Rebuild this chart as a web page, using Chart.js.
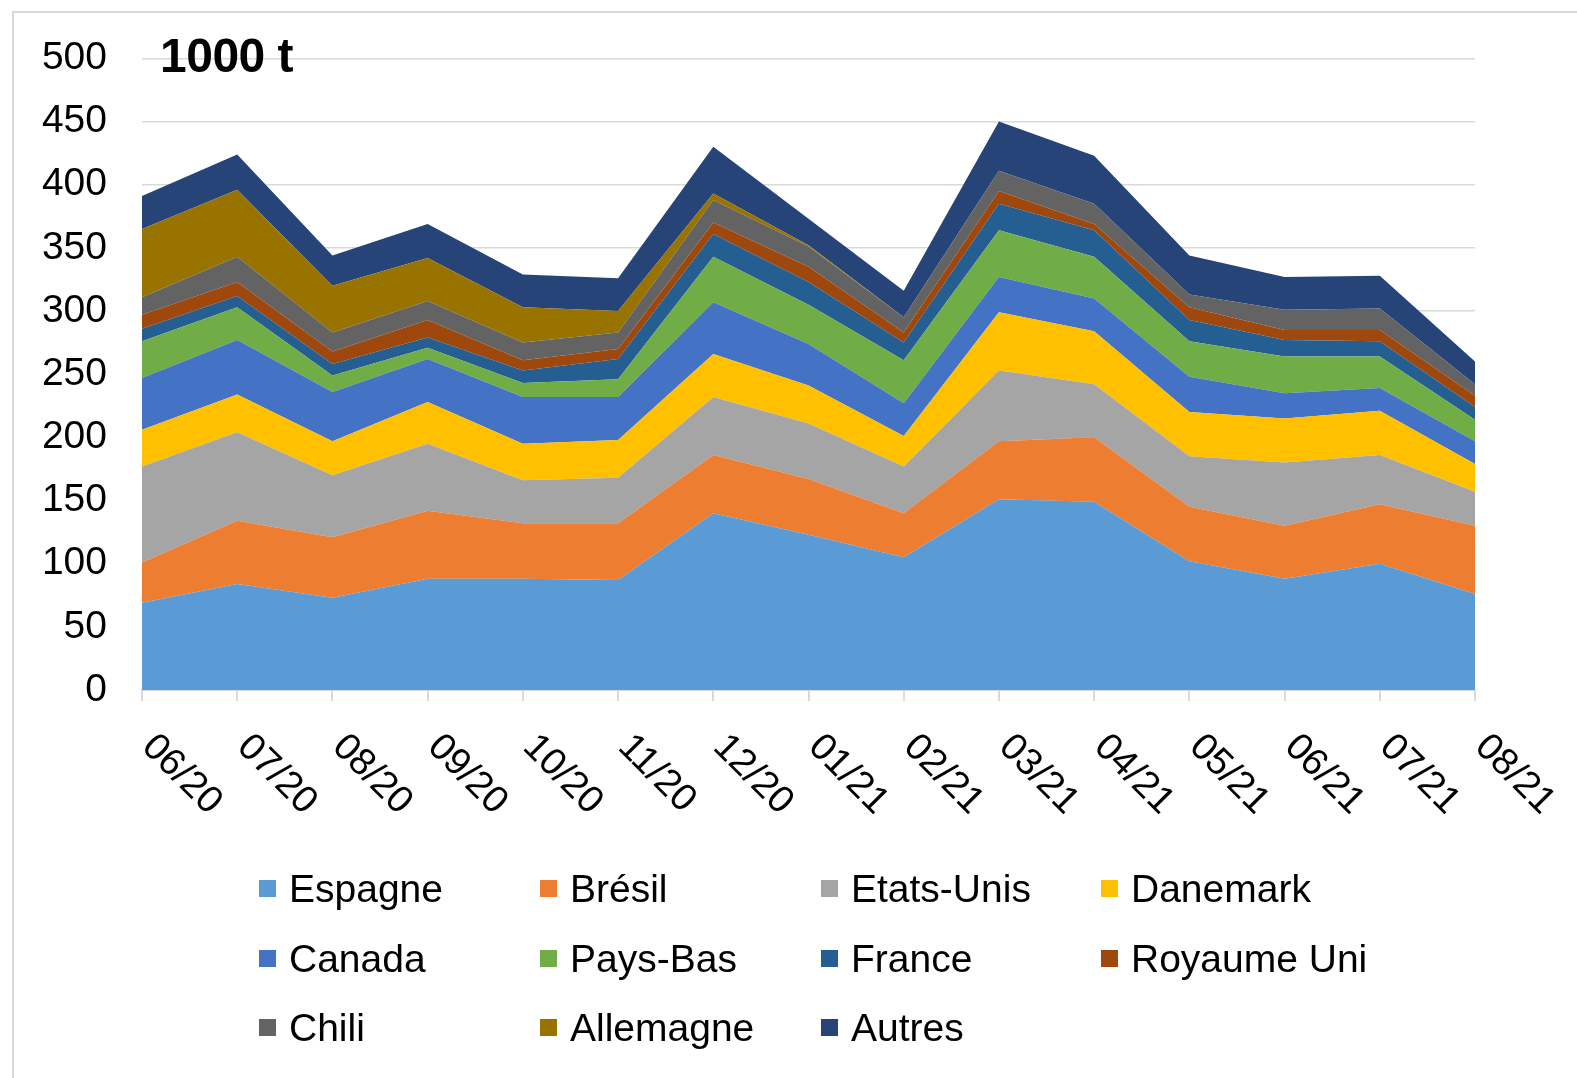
<!DOCTYPE html>
<html>
<head>
<meta charset="utf-8">
<script src="https://cdn.jsdelivr.net/npm/chart.js@4.4.1/dist/chart.umd.min.js"></script>
<style>
  html, body { margin: 0; padding: 0; background: #fff; overflow: hidden; }
  #wrap { position: relative; width: 1577px; height: 1078px; }
  #frame { position: absolute; left: 12px; top: 11px; width: 1600px; height: 1100px; border: 2px solid #d9d9d9; box-sizing: border-box; }
  canvas { position: absolute; left: 0; top: 0; }
  #unit { position: absolute; left: 160px; top: 28px; font: bold 48px "Liberation Sans", Arial, sans-serif; color: #000; letter-spacing: -0.5px; }
  .lg { position: absolute; font: 39px "Liberation Sans", Arial, sans-serif; color: #000; white-space: nowrap; line-height: 1; }
  .lg span.box { position: absolute; left: 0; top: 50%; width: 17px; height: 17px; margin-top: -8px; }
  .lg span.txt { position: absolute; left: 30px; top: -19px; }
</style>
</head>
<body>
<div id="wrap">
  <div id="frame"></div>
  <canvas id="c" width="1577" height="1078"></canvas>
  <div id="unit">1000 t</div>
  <div id="legend"></div>
</div>
<script>
const categories = ['06/20','07/20','08/20','09/20','10/20','11/20','12/20','01/21','02/21','03/21','04/21','05/21','06/21','07/21','08/21'];
const espagne    = [69, 84, 73, 88, 88, 87, 140, 123, 105, 151, 149, 102, 88, 100, 76];
const bresil     = [32, 50, 48, 54, 44, 45, 46, 44, 35, 46, 51, 43, 42, 47, 54];
const etatsUnis  = [76, 70, 49, 53, 34, 36, 46, 44, 37, 56, 42, 40, 50, 39, 27];
const danemark   = [29, 30, 27, 33, 29, 30, 34, 30, 24, 46, 42, 35, 35, 35, 22];
const canada     = [41, 43, 39, 34, 37, 34, 41, 33, 26, 28, 26, 28, 20, 18, 18];
const paysBas    = [29, 26, 13, 9, 11, 14, 36, 31, 34, 37, 33, 28, 29, 25, 17];
const france     = [10, 9, 9, 8, 10, 16, 18, 18, 14, 21, 21, 17, 13, 12, 10];
const royaumeUni = [11, 11, 10, 14, 8, 8, 9, 12, 8, 10, 5, 10, 8, 9, 9];
const chili      = [14, 20, 15, 15, 14, 13, 18, 16, 12, 16, 16, 10, 16, 17, 9];
const allemagne  = [54, 53, 37, 34, 28, 17, 5, 1, 0, 0, 0, 0, 0, 0, 0];
const autres     = [26, 28, 24, 27, 26, 26, 37, 21, 21, 39, 38, 31, 26, 26, 18];

const seriesNames = ['Espagne','Brésil','Etats-Unis','Danemark','Canada','Pays-Bas','France','Royaume Uni','Chili','Allemagne','Autres'];
const seriesData = [espagne, bresil, etatsUnis, danemark, canada, paysBas, france, royaumeUni, chili, allemagne, autres];
const seriesColors = ['#5B9BD5','#ED7D31','#A5A5A5','#FFC000','#4472C4','#70AD47','#255E91','#9E480E','#636363','#997300','#264478'];

const datasets = seriesNames.map((n, i) => ({
  label: n,
  data: seriesData[i],
  backgroundColor: seriesColors[i],
  borderColor: seriesColors[i],
  borderWidth: 0,
  pointRadius: 0,
  pointHoverRadius: 0,
  fill: i === 0 ? 'origin' : '-1',
  tension: 0
}));

const xLabelPlugin = {
  id: 'xLabels',
  afterDraw(chart) {
    const ctx = chart.ctx;
    const xs = chart.scales.x;
    ctx.save();
    ctx.font = '38px "Liberation Sans", Arial, sans-serif';
    ctx.fillStyle = '#000';
    ctx.textAlign = 'left';
    ctx.textBaseline = 'middle';
    categories.forEach((c, i) => {
      const x = xs.getPixelForValue(i);
      ctx.save();
      ctx.translate(x + 6, 741);
      ctx.rotate(Math.PI / 4);
      ctx.fillText(c, 0, 0);
      ctx.restore();
    });
    ctx.restore();
  }
};

new Chart(document.getElementById('c'), {
  type: 'line',
  data: { labels: categories, datasets },
  plugins: [xLabelPlugin],
  options: {
    responsive: false,
    animation: false,
    layout: { padding: { top: 57, right: 102, left: 0, bottom: 0 } },
    plugins: { legend: { display: false }, tooltip: { enabled: false }, filler: { propagate: false } },
    scales: {
      x: {
        offset: false,
        ticks: { display: false },
        grid: { drawOnChartArea: false, drawTicks: true, tickLength: 11, color: '#d9d9d9', lineWidth: 2 },
        border: { display: true, color: '#d9d9d9', width: 2 },
        afterFit: s => { s.height = 1078 - 690; }
      },
      y: {
        stacked: true,
        min: 0, max: 500,
        ticks: { stepSize: 50, padding: 35, color: '#000', font: { family: '"Liberation Sans", Arial, sans-serif', size: 39 } },
        grid: { color: '#d9d9d9', lineWidth: 1.5, drawTicks: false },
        border: { display: false },
        afterFit: s => { s.width = 142; }
      }
    }
  }
});

// HTML legend
const legend = document.getElementById('legend');
const colX = [259, 540, 821, 1101];
const rowY = [888, 958, 1027];
seriesNames.forEach((n, i) => {
  const d = document.createElement('div');
  d.className = 'lg';
  d.style.left = colX[i % 4] + 'px';
  d.style.top = rowY[Math.floor(i / 4)] + 'px';
  d.innerHTML = '<span class="box" style="background:' + seriesColors[i] + '"></span><span class="txt">' + n + '</span>';
  legend.appendChild(d);
});
</script>
</body>
</html>
